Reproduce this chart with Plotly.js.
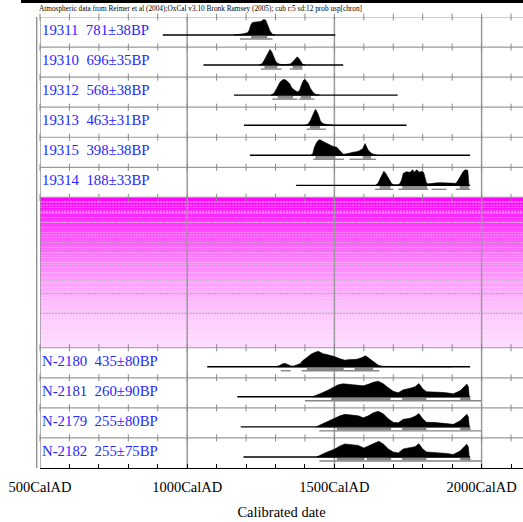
<!DOCTYPE html>
<html><head><meta charset="utf-8">
<script src="https://cdn.plot.ly/plotly-3.0.1.min.js"></script>
<style>html,body{margin:0;padding:0;overflow:hidden;background:#fff}</style>
</head><body><div id="chart" style="width:523px;height:522px"></div>
<script>
// ---------------- data ----------------
const sampleLabels = ["19311\u00a0\u00a0781±38BP","19310\u00a0\u00a0696±35BP","19312\u00a0\u00a0568±38BP","19313\u00a0\u00a0463±31BP","19315\u00a0\u00a0398±38BP","19314\u00a0\u00a0188±33BP","N-2180\u00a0\u00a0435±80BP","N-2181\u00a0\u00a0260±90BP","N-2179\u00a0\u00a0255±80BP","N-2182\u00a0\u00a0255±75BP"];
const baselineStart = [917,1055,1159,1193,1213,1370,1068,1170,1182,1191];
const baselineEnd   = [1503,1530,1715,1745,1961,1961,1961,1961,1961,1961];

const years19311 = [1160,1175,1191,1205,1211,1216,1222,1236,1250,1260,1266,1272,1281,1290,1298];
const dens19311  = [0,0.5,1.2,2.3,5,10,12.5,13,13.5,15.5,15,11,4,0.5,0];
const years19310 = [1245,1255,1262,1270,1276,1281,1287,1294,1300,1308,1318,1335,1350,1358,1366,1374,1380,1386,1392,1400];
const dens19310  = [0,1.5,5,10,14,15.7,13.5,8,4,1.5,0.6,0.5,1,3,6,8.3,6.5,3,0.8,0];
const years19312 = [1285,1295,1304,1315,1325,1332,1340,1349,1356,1363,1370,1376,1382,1389,1395,1400,1406,1411,1418,1423,1430,1440,1450];
const dens19312  = [0,2,6.7,13,15.5,15.7,14,11,7,5,4,3.3,5,11,15,15.7,14,12,7,4.5,2,0.5,0];
const years19313 = [1400,1410,1419,1428,1434,1437,1441,1445,1453,1460,1468,1480,1495];
const dens19313  = [0,1,5,12,15.5,16,14,11,4,2,1,0.4,0];
const years19315 = [1420,1426,1432,1440,1447,1451,1460,1474,1485,1494,1508,1514,1519,1525,1530,1542,1553,1564,1575,1585,1596,1604,1610,1615,1624,1632,1645];
const dens19315  = [0,1,8,13,15.3,15.6,14,12,10,9,8,6,4,2,1,1.5,2.5,3,3.5,4.5,6.5,11.7,8,5,2.5,1,0];
const years19314 = [1640,1648,1656,1664,1668,1674,1680,1688,1695,1702,1715,1722,1728,1734,1745,1757,1766,1771,1780,1788,1796,1803,1808,1813,1820,1830,1850,1870,1890,1904,1912,1918,1927,1938,1945,1953,1955,1957];
const dens19314  = [0,2,7,13,14,12,9,4,1.5,0.5,0.5,1.5,5,12,13.5,13,15.6,13,15.6,13,14,13,6,2,1.5,2,2.5,2.5,2.2,1.5,2,4,9,14,15.6,15,8,0];
const yearsN2180 = [1300,1312,1325,1332,1340,1350,1360,1372,1383,1392,1400,1412,1423,1435,1445,1452,1462,1474,1485,1502,1519,1530,1536,1545,1553,1565,1576,1592,1600,1606,1613,1621,1630,1638,1647,1655,1670,1700,1780,1791,1800,1850,1900];
const densN2180  = [0,1,3,3.3,2.5,1,0.6,1.5,3,6,8,11,13,14.5,15.7,14.5,13,12.3,11.5,10,8,6.8,6.5,7,7,7.3,7.5,9,10.5,11,9.5,8,6,4,2,1,0.3,0.2,0.2,0.5,0.2,0.1,0];
const yearsN2181 = [1425,1440,1451,1474,1496,1513,1530,1553,1576,1598,1615,1632,1649,1666,1683,1700,1717,1734,1757,1774,1787,1800,1813,1836,1859,1881,1904,1927,1945,1950,1955,1958];
const densN2181  = [0,1.5,3,6,9,12,13,12.5,12,11,12.5,14.5,15.6,13,9,5.5,4,7,8.5,10,13.3,8,5,5,4.5,4,3,6,11.5,12.7,10,0];
const yearsN2179 = [1438,1460,1485,1502,1519,1536,1559,1581,1598,1615,1632,1649,1666,1683,1700,1717,1734,1757,1774,1787,1800,1813,1836,1859,1881,1904,1927,1945,1950,1955,1958];
const densN2179  = [0,3,6,9,11,12.5,12,11,9,11,14,15.6,13,8,4.5,4,7.5,8.5,10.5,13.3,8,4.5,4.5,4,3.5,2.5,6,11.5,12.7,10,0];
const yearsN2182 = [1440,1468,1502,1519,1536,1559,1581,1600,1621,1640,1651,1668,1683,1700,1717,1734,1757,1774,1787,1800,1813,1836,1859,1881,1904,1927,1945,1950,1955,1958];
const densN2182  = [0,4,8,11,13,12,11.5,9,11.5,14.5,15.6,12.5,8,5,4,8,9,10.3,13.3,8,5,4.5,4.3,3.5,2.5,6,11.5,12.7,10,0];

const range68 = [
  [[1219,1270]],
  [[1264,1304],[1360,1389]],
  [[1309,1358],[1387,1419]],
  [[1419,1449]],
  [[1437,1502],[1598,1623]],
  [[1655,1689],[1732,1813],[1927,1955]],
  [[1408,1530],[1570,1630]],
  [[1491,1689],[1732,1811],[1929,1961]],
  [[1510,1691],[1732,1811],[1929,1961]],
  [[1510,1600],[1612,1691],[1732,1811],[1929,1961]]
];
const range95 = [
  [[1179,1290]],
  [[1250,1321],[1349,1392]],
  [[1289,1374],[1379,1432]],
  [[1406,1471]],
  [[1428,1533],[1551,1641]],
  [[1638,1700],[1717,1819],[1830,1881],[1912,1961]],
  [[1318,1352],[1389,1652]],
  [[1400,2000]],
  [[1449,2000]],
  [[1449,2000]]
];
const tickYears = [500,600,700,800,900,1000,1100,1200,1300,1400,1500,1600,1700,1800,1900,2000,2100];
const tickText  = ["500CalAD","","","","","1000CalAD","","","","","1500CalAD","","","","","2000CalAD",""];
const majorYears = [1000,1500,2000];

// ---------------- build ----------------
const sampleYears = [years19311,years19310,years19312,years19313,years19315,years19314,yearsN2180,yearsN2181,yearsN2179,yearsN2182];
const sampleDens  = [dens19311,dens19310,dens19312,dens19313,dens19315,dens19314,densN2180,densN2181,densN2179,densN2182];
const sampleRow = [0,1,2,3,4,5,11,12,13,14];
const NROWS = 15, TOP = 17, BOTTOM = 468;
const ROW_PX = (BOTTOM-TOP)/NROWS;
const PEAK = 15.6/ROW_PX;
const XMIN = 500, XMAX = 500 + 483/0.2944;
const serif = "Liberation Serif, Times New Roman, serif";

const traces = [];
const shapes = [];
const annotations = [];

// vertical major grid lines
majorYears.forEach(x => shapes.push({type:'line',xref:'x',yref:'y',x0:x,x1:x,y0:0,y1:NROWS,layer:'below',line:{color:'#9a9a9a',width:1.5}}));
// left double border
shapes.push({type:'line',xref:'x',yref:'y',x0:XMIN,x1:XMIN,y0:0,y1:NROWS,layer:'below',line:{color:'#8a8a8a',width:1.3}});
shapes.push({type:'line',xref:'paper',yref:'y',x0:-3.3/483,x1:-3.3/483,y0:-0.07,y1:NROWS,layer:'below',line:{color:'#8a8a8a',width:1.3}});

// magenta band
const BAND0 = 6, BAND1 = 11, NB = 60;
for (let k=0;k<NB;k++){
  const t = (k+0.5)/NB;
  const g = Math.round(216*(1-Math.pow(1-t,1.6)));
  shapes.push({type:'rect',xref:'paper',yref:'y',x0:0,x1:1,y0:BAND0+k*(BAND1-BAND0)/NB,y1:BAND0+(k+1)*(BAND1-BAND0)/NB,
    fillcolor:`rgb(255,${g},255)`,line:{width:0},layer:'below'});
}
const bandLines = [6.14,6.26,6.46,6.53,6.83,7.25,7.49,7.79,7.93,8.24,8.76,9.19,9.85];
const bandLineDark = [0,0,0,0,0,0,1,1,0,0,0,1,1];
bandLines.forEach((y,i)=>shapes.push({type:'line',xref:'paper',yref:'y',x0:0,x1:1,y0:y,y1:y,layer:'below',
  line:{color:bandLineDark[i]?'#999999':'#cccccc',width:0.8,dash:'2px,1px'}}));

// row separators
const sepRows = [0,1,2,3,4,5,6,11,12,13,14];
sepRows.forEach(r => shapes.push({type:'line',xref:'paper',yref:'y',x0:0,x1:1,y0:r,y1:r,layer:'below',line:{color:'#9a9a9a',width:1.2}}));
// separator ticks
const tx=[], ty=[];
sepRows.forEach(r => tickYears.forEach(x => {tx.push(x); ty.push(r);}));
traces.push({type:'scatter',mode:'markers',x:tx,y:ty,cliponaxis:false,hoverinfo:'skip',
  marker:{symbol:'line-ns-open',size:5,color:'#8a8a8a',line:{color:'#8a8a8a',width:1}}});

// distributions
sampleLabels.forEach((lab,i)=>{
  const r = sampleRow[i];
  const base = r + (r<6?18:19)/ROW_PX;
  const yrs = sampleYears[i], d = sampleDens[i];
  const m = Math.max(...d);
  traces.push({type:'scatter',mode:'lines',x:[baselineStart[i],baselineEnd[i]],y:[base,base],
    line:{color:'#000',width:1.4},hoverinfo:'skip'});
  traces.push({type:'scatter',mode:'lines',x:yrs.concat([yrs[yrs.length-1],yrs[0]]),
    y:d.map(v=>base - v/m*PEAK).concat([base,base]),fill:'toself',fillcolor:'#000',
    line:{color:'#000',width:0.6},hoverinfo:'skip'});
  range68[i].forEach(([a,b])=>shapes.push({type:'rect',xref:'x',yref:'y',x0:a,x1:b,
    y0:base+1.1/ROW_PX,y1:base+3.0/ROW_PX,fillcolor:'#9c9c9c',line:{color:'#505050',width:0.6},layer:'above'}));
  range95[i].forEach(([a,b])=>shapes.push({type:'rect',xref:'x',yref:'y',x0:a,x1:b,
    y0:base+3.3/ROW_PX,y1:base+4.7/ROW_PX,fillcolor:'#858585',line:{width:0},layer:'above'}));
  annotations.push({xref:'paper',yref:'y',x:0,y:base-5.5/ROW_PX,xanchor:'left',yanchor:'middle',showarrow:false,
    text:lab,font:{family:serif,size:14.8,color:'#2626ff'}});
});

// header frame and caption
shapes.push({type:'line',xref:'paper',yref:'paper',x0:-19/483,x1:1.01,y0:(BOTTOM-1.5)/(BOTTOM-TOP),y1:(BOTTOM-1.5)/(BOTTOM-TOP),line:{color:'#000',width:3}});
shapes.push({type:'line',xref:'paper',yref:'paper',x0:-18/483,x1:-18/483,y0:(BOTTOM-3)/(BOTTOM-TOP),y1:(BOTTOM+2)/(BOTTOM-TOP),line:{color:'#000',width:2}});
annotations.push({xref:'paper',yref:'paper',x:-3.5/483,y:(BOTTOM-8.3)/(BOTTOM-TOP),xanchor:'left',yanchor:'middle',showarrow:false,
  text:"Atmospheric data from Reimer et al (2004);OxCal v3.10 Bronk Ramsey (2005); cub r:5 sd:12 prob usp[chron]",
  font:{family:serif,size:7.3,color:'#000'}});

const layout = {
  width:523,height:522,
  margin:{l:40,r:0,t:TOP,b:522-BOTTOM,pad:0},
  paper_bgcolor:'#fff',plot_bgcolor:'#fff',
  showlegend:false,
  xaxis:{range:[XMIN,XMAX],showgrid:false,zeroline:false,showline:true,linecolor:'#000',linewidth:1.4,
    ticks:'inside',ticklen:4,tickwidth:1,tickcolor:'#000',tickmode:'array',tickvals:tickYears,ticktext:tickText,
    tickfont:{family:serif,size:14.5,color:'#000'},ticklabelstandoff:5,
    title:{text:'Calibrated date',font:{family:serif,size:14.5,color:'#000'},standoff:13},automargin:false,fixedrange:true},
  yaxis:{range:[NROWS,0],visible:false,fixedrange:true},
  shapes:shapes,annotations:annotations
};
Plotly.newPlot('chart',traces,layout,{staticPlot:true,displayModeBar:false});
</script></body></html>
